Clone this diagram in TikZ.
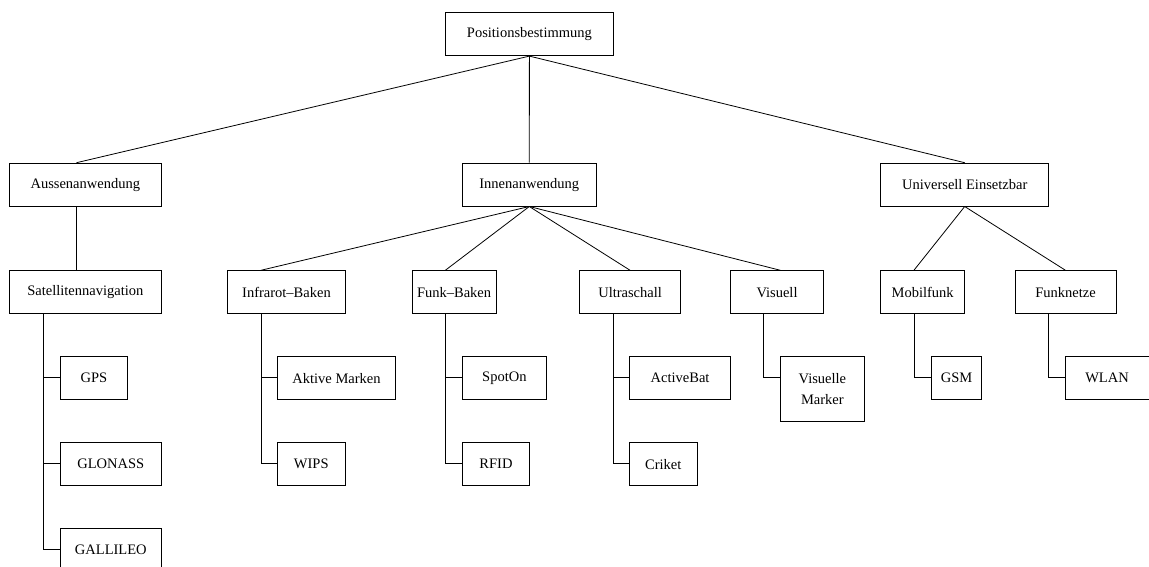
\documentclass[tikz,border=0pt]{standalone}
\usepackage{fontspec}
\setmainfont{Liberation Serif}
\usetikzlibrary{calc}
\begin{document}
\begin{tikzpicture}[x=1pt,y=-1pt,
  box/.style={draw,line width=0.8pt,anchor=north west,inner sep=0pt,
    minimum height=43,align=center,
    font=\fontsize{14.5}{21}\selectfont},
  link/.style={line width=0.8pt}]
\useasboundingbox (0,0) rectangle (1149,566);
\clip (0,0) rectangle (1149,566);
\def\u{16.8}
% level 0 and 1
\node[box,minimum width=10*\u] (root) at (445,12.3) {Positionsbestimmung};
\node[box,minimum width=9*\u] (aussen) at (9.3,162.7) {Aussenanwendung};
\node[box,minimum width=8*\u] (innen) at (461.7,162.7) {Innenanwendung};
\node[box,minimum width=10*\u] (univ) at (880.3,162.7) {Universell Einsetzbar};
% level 2
\node[box,minimum width=9*\u] (sat) at (9.3,270.3) {Satellitennavigation};
\node[box,minimum width=7*\u] (infra) at (227.3,270.3) {Infrarot--Baken};
\node[box,minimum width=5*\u] (funk) at (411.7,270.3) {Funk--Baken};
\node[box,minimum width=6*\u] (ultra) at (579.3,270.3) {Ultraschall};
\node[box,minimum width=5.55*\u] (visuell) at (730,270.3) {Visuell};
\node[box,minimum width=5*\u] (mobil) at (880.3,270.3) {Mobilfunk};
\node[box,minimum width=6*\u] (funkn) at (1014.7,270.3) {Funknetze};
% level 3
\node[box,minimum width=4*\u] (gps) at (60,356.3) {GPS};
\node[box,minimum width=6*\u] (glonass) at (60,442.3) {GLONASS};
\node[box,minimum width=6*\u] (gallileo) at (60,528.3) {GALLILEO};
\node[box,minimum width=7*\u] (aktive) at (277.3,356.3) {Aktive Marken};
\node[box,minimum width=4*\u] (wips) at (277.3,442.3) {WIPS};
\node[box,minimum width=5*\u] (spoton) at (462,356.3) {SpotOn};
\node[box,minimum width=4*\u] (rfid) at (462,442.3) {RFID};
\node[box,minimum width=6*\u] (activebat) at (629.3,356.3) {ActiveBat};
\node[box,minimum width=4*\u] (criket) at (629.3,442.3) {Criket};
\node[box,minimum width=5*\u,minimum height=64.7] (vmarker) at (780,356.3) {Visuelle\\Marker};
\node[box,minimum width=3*\u] (gsm) at (931,356.3) {GSM};
\node[box,minimum width=5*\u] (wlan) at (1064.6,356.3) {WLAN};
% upper connectors
\draw[link] (root.south) -- ($(aussen.north west)+(4*\u,0)$);
\draw[link] (root.south) -- (innen.north);
\draw[link] (root.south) -- (univ.north);
\draw[link] ($(aussen.south west)+(4*\u,0)$) -- ($(sat.north west)+(4*\u,0)$);
\draw[link] (innen.south) -- ($(infra.north west)+(2*\u,0)$);
\draw[link] (innen.south) -- ($(funk.north west)+(2*\u,0)$);
\draw[link] (innen.south) -- (ultra.north);
\draw[link] (innen.south) -- ($(visuell.north west)+(3*\u,0)$);
\draw[link] (univ.south) -- ($(mobil.north west)+(2*\u,0)$);
\draw[link] (univ.south) -- (funkn.north);
% leaf connectors: down from the parent, then across to the child's left side
\foreach \p/\c in {sat/gps,sat/glonass,sat/gallileo,infra/aktive,infra/wips,
                   funk/spoton,funk/rfid,ultra/activebat,ultra/criket,
                   visuell/vmarker,mobil/gsm,funkn/wlan}
  \draw[link] ($(\p.south west)+(2*\u,0)$) |- ($(\c.north west)+(0,21.5)$);
\end{tikzpicture}
\end{document}
